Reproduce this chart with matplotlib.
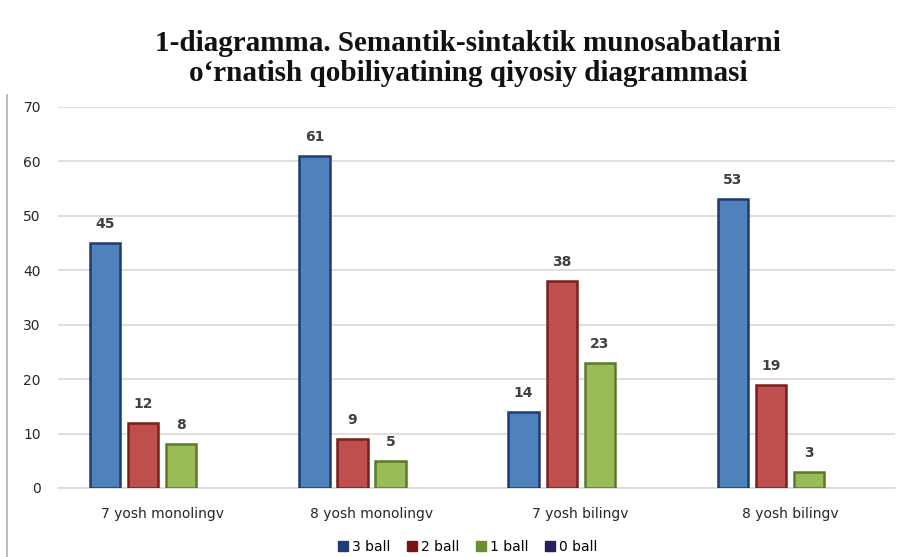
import numpy as np
import matplotlib.pyplot as plt
from matplotlib.lines import Line2D
from matplotlib.patches import Patch

plt.rcParams["font.family"] = ["DejaVu Sans"]

categories = ["7 yosh monolingv", "8 yosh monolingv", "7 yosh bilingv", "8 yosh bilingv"]
series = ["3 ball", "2 ball", "1 ball", "0 ball"]
ball3 = [45, 61, 14, 53]
ball2 = [12, 9, 38, 19]
ball1 = [8, 5, 23, 3]
ball0 = [0, 0, 0, 0]
yticks = [0, 10, 20, 30, 40, 50, 60, 70]

face = ["#4F81BD", "#C0504D", "#9BBB59", "#8064A2"]
edge = ["#1F3B6E", "#7A1F1D", "#5A7A2A", "#3B2A66"]
legend_col = ["#1F3B7A", "#7A1414", "#6A8F2E", "#2A1F5C"]

fig = plt.figure(figsize=(9, 5.57), dpi=100)
ax = fig.add_axes([0.064, 0.124, 0.93, 0.684])

x = np.arange(len(categories))
w = 0.145
step = 0.182
values = [ball3, ball2, ball1, ball0]
for i, vals in enumerate(values):
    pos = x + (i - 1.5) * step
    if i < 3:
        ax.bar(pos, vals, width=w, color=face[i], edgecolor=edge[i], linewidth=1.8, zorder=3)
        for p, v in zip(pos, vals):
            ax.text(p, v + 2.2, str(v), ha="center", va="bottom", fontsize=10,
                    fontweight="bold", color="#404040")

ax.set_xlim(-0.5, 3.5)
ax.set_ylim(0, 70)
ax.set_yticks(yticks)
ax.set_xticks(x)
ax.set_xticklabels(categories, fontsize=10, color="#262626")
ax.tick_params(axis="y", labelsize=10, labelcolor="#262626", length=0, pad=12)
ax.tick_params(axis="x", length=0, pad=14)
ax.grid(axis="y", color="#D9D9D9", linewidth=1.2, zorder=0)
for s in ["top", "right", "left"]:
    ax.spines[s].set_visible(False)
ax.spines["bottom"].set_color("#D9D9D9")
ax.spines["bottom"].set_linewidth(1.2)

handles = [Patch(facecolor=legend_col[i], edgecolor=legend_col[i]) for i in range(4)]
fig.legend(handles, series, loc="center", bbox_to_anchor=(0.52, 0.018), ncol=4,
           frameon=False, fontsize=10, handlelength=0.7, handleheight=0.7,
           handletextpad=0.3, columnspacing=1.2)

fig.text(0.52, 0.843, "1-diagramma. Semantik-sintaktik munosabatlarni\no\u2018rnatish qobiliyatining qiyosiy diagrammasi",
         ha="center", va="bottom", fontsize=21, fontweight="bold",
         family="Liberation Serif", linespacing=1.15, color="#111111")

fig.add_artist(Line2D([0.008, 0.008], [0.0, 0.83], color="#B0B0B0", linewidth=1.2))

fig.savefig("out.png", dpi=100)
